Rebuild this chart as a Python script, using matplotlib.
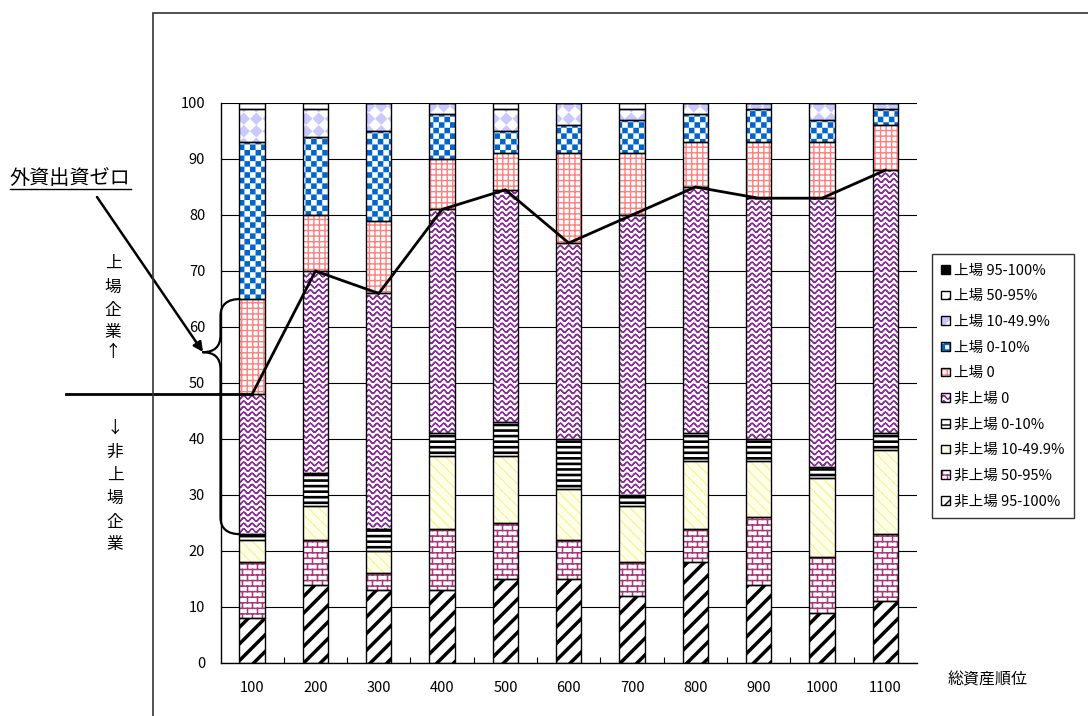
import warnings
import numpy as np
import matplotlib
matplotlib.use("Agg")
import matplotlib.pyplot as plt
from matplotlib import hatch as mhatch
from matplotlib.path import Path
from matplotlib.patches import PathPatch, Rectangle
from matplotlib.transforms import blended_transform_factory
from matplotlib.legend_handler import HandlerTuple

warnings.filterwarnings("ignore")
plt.rcParams["font.family"] = ["Noto Sans CJK JP", "DejaVu Sans"]

# ---------------------------------------------------------------- data
ranks = ["100", "200", "300", "400", "500", "600", "700", "800", "900", "1000", "1100"]

unlisted_95_100 = [8, 14, 13, 13, 15, 15, 12, 18, 14, 9, 11]
unlisted_50_95 = [10, 8, 3, 11, 10, 7, 6, 6, 12, 10, 12]
unlisted_10_50 = [4, 6, 4, 13, 12, 9, 10, 12, 10, 14, 15]
unlisted_0_10 = [1, 6, 4, 4, 6, 9, 2, 5, 4, 2, 3]
unlisted_0 = [25, 36, 42, 40, 41.5, 35, 50, 44, 43, 48, 47]
listed_0 = [17, 10, 13, 9, 6.5, 16, 11, 8, 10, 10, 8]
listed_0_10 = [28, 14, 16, 8, 4, 5, 6, 5, 6, 4, 3]
listed_10_50 = [6, 5, 5, 2, 4, 4, 2, 2, 1, 3, 1]
listed_50_95 = [1, 1, 0, 0, 1, 0, 1, 0, 0, 0, 0]
listed_95_100 = [0, 0, 0, 0, 0, 0, 0, 0, 0, 0, 0]

series_labels = ["非上場 95-100%", "非上場 50-95%", "非上場 10-49.9%", "非上場 0-10%",
                 "非上場 0", "上場 0", "上場 0-10%", "上場 10-49.9%", "上場 50-95%",
                 "上場 95-100%"]


# ---------------------------------------------------------- custom hatches
def _segments_to(vertices, codes, segs):
    arr = np.asarray(segs, dtype=float).reshape(-1, 2)
    vertices[:] = arr
    codes[0::2] = Path.MOVETO
    codes[1::2] = Path.LINETO


class BrickHatch(mhatch.HatchPatternBase):
    rows, cols = 18, 10

    def __init__(self, hatch, density):
        self.segs = []
        if "b" in hatch:
            R, C = self.rows, self.cols
            for r in range(R):
                y0 = (r + 0.5) / R
                y1 = (r + 1.5) / R
                self.segs.append(((0, y0), (1, y0)))
                off = 0.5 * (r % 2) + 0.25
                for c in range(C):
                    x = (c + off) / C
                    if y1 > 1:
                        self.segs.append(((x, y0), (x, 1.0)))
                        self.segs.append(((x, 0.0), (x, y1 - 1)))
                    else:
                        self.segs.append(((x, y0), (x, y1)))
        self.num_vertices = 2 * len(self.segs)

    def set_vertices_and_codes(self, vertices, codes):
        _segments_to(vertices, codes, self.segs)


class WaveHatch(mhatch.HatchPatternBase):
    rows, waves, steps, amp = 18, 12, 8, 0.017

    def __init__(self, hatch, density):
        self.segs = []
        if "w" in hatch:
            xs = np.linspace(0, 1, self.waves * self.steps + 1)
            for r in range(self.rows):
                yc = (r + 0.5) / self.rows
                ys = yc + self.amp * np.sin(2 * np.pi * self.waves * xs)
                for i in range(len(xs) - 1):
                    self.segs.append(((xs[i], ys[i]), (xs[i + 1], ys[i + 1])))
        self.num_vertices = 2 * len(self.segs)

    def set_vertices_and_codes(self, vertices, codes):
        _segments_to(vertices, codes, self.segs)


class _PolyHatch(mhatch.HatchPatternBase):
    def __init__(self, hatch, density):
        self.polys = self.make() if self.key in hatch else []
        self.num_vertices = 5 * len(self.polys)

    def set_vertices_and_codes(self, vertices, codes):
        for k, poly in enumerate(self.polys):
            vertices[5 * k:5 * k + 4] = poly
            vertices[5 * k + 4] = poly[0]
            codes[5 * k] = Path.MOVETO
            codes[5 * k + 1:5 * k + 4] = Path.LINETO
            codes[5 * k + 4] = Path.CLOSEPOLY


class CheckerHatch(_PolyHatch):
    key, n = "c", 18

    def make(self):
        s = 1.0 / self.n
        out = []
        for i in range(self.n):
            for j in range(self.n):
                if (i + j) % 2 == 0:
                    x0, y0 = i * s, j * s
                    out.append([(x0, y0), (x0 + s, y0), (x0 + s, y0 + s), (x0, y0 + s)])
        return out


class DiamondHatch(_PolyHatch):
    key, n = "d", 8

    def make(self):
        s = 1.0 / self.n
        h = s / 2
        out = []
        for i in range(self.n):
            for j in range(self.n):
                cx, cy = (i + 0.5) * s, (j + 0.5) * s
                out.append([(cx, cy - h), (cx + h, cy), (cx, cy + h), (cx - h, cy)])
        return out


mhatch._hatch_types.extend([BrickHatch, WaveHatch, CheckerHatch, DiamondHatch])

# ------------------------------------------------------------- figure
W, H = 1088, 716
fig = plt.figure(figsize=(W / 100, H / 100), dpi=100)
ax_left, ax_right, ax_top, ax_bottom = 220.5, 917, 103, 663
ax = fig.add_axes([ax_left / W, 1 - ax_bottom / H,
                   (ax_right - ax_left) / W, (ax_bottom - ax_top) / H])

x = np.arange(len(ranks))
bar_w = 0.40

styles = [
    # face, hatch, hatch colour, hatch linewidth
    ("white", "//", "black", 2.5),
    ("white", "b", "#A8387A", 1.1),
    ("#FFFFE8", "\\\\\\", "#F2F2A6", 0.9),
    ("white", "---", "black", 1.9),
    ("white", "w", "#8A2E9A", 1.0),
    ("white", "+++", "#FF7F7F", 1.0),
    ("white", "c", "#0066CC", 0.0),
    ("white", "d", "#C9C9FF", 0.0),
    ("white", ".", "#303090", 0.5),
    ("black", None, "black", 0.5),
]
series = [unlisted_95_100, unlisted_50_95, unlisted_10_50, unlisted_0_10, unlisted_0,
          listed_0, listed_0_10, listed_10_50, listed_50_95, listed_95_100]

handles = []
bottom = np.zeros(len(ranks))
for vals, (face, hatch, hcol, hlw), lab in zip(series, styles, series_labels):
    vals = np.asarray(vals, dtype=float)
    with plt.rc_context({"hatch.linewidth": hlw, "hatch.color": hcol}):
        fill = ax.bar(x, vals, bar_w, bottom=bottom, color=face, edgecolor=hcol,
                      linewidth=0, hatch=hatch, zorder=2)
    for p in fill:
        if hasattr(p, "set_hatch_linewidth"):
            p.set_hatch_linewidth(hlw)
    outline = ax.bar(x, vals, bar_w, bottom=bottom, fill=False, edgecolor="black",
                     linewidth=1.0, zorder=3)
    handles.append(((fill[0], outline[0]), lab))
    bottom = bottom + vals

# boundary between unlisted and listed firms
unlisted_total = (np.array(unlisted_95_100) + np.array(unlisted_50_95) + np.array(unlisted_10_50)
                  + np.array(unlisted_0_10) + np.array(unlisted_0))
ax.plot(x, unlisted_total, color="black", lw=2.0, zorder=5, solid_joinstyle="miter")

blend = blended_transform_factory(ax.transAxes, ax.transData)
x0_frac = (0 + 0.5) / len(ranks)
ax.plot([(66 - ax_left) / (ax_right - ax_left), x0_frac], [unlisted_total[0]] * 2,
        color="black", lw=2.0, transform=blend, clip_on=False, zorder=5)

# axes styling
ax.set_xlim(-0.5, len(ranks) - 0.5)
ax.set_ylim(0, 100)
ax.set_yticks(np.arange(0, 101, 10))
ax.yaxis.grid(True, color="black", lw=0.8)
ax.set_axisbelow(True)
ax.tick_params(axis="y", length=0, pad=11, labelsize=10.5)
ax.set_xticks(x)
ax.set_xticklabels(ranks)
ax.set_xticks(x[:-1] + 0.5, minor=True)
ax.tick_params(axis="x", which="major", length=0, pad=13, labelsize=10.5)
ax.tick_params(axis="x", which="minor", direction="in", length=4, width=0.8)
for s in ("top", "right"):
    ax.spines[s].set_visible(False)
for s in ("left", "bottom"):
    ax.spines[s].set_color("black")
    ax.spines[s].set_linewidth(1.0)

# brace spanning the 100-rank bar
top_y = unlisted_total[0] + listed_0[0]
bot_y = unlisted_total[0] - unlisted_0[0]
tip_y = 55.5
r = 3.0
bx, tx = 20 / (ax_right - ax_left), -18 / (ax_right - ax_left)
verts = [(bx, top_y), (0, top_y), (0, top_y - r), (0, tip_y + r), (0, tip_y), (tx, tip_y),
         (0, tip_y), (0, tip_y - r), (0, bot_y + r), (0, bot_y), (bx, bot_y)]
codes = [Path.MOVETO, Path.CURVE3, Path.CURVE3, Path.LINETO, Path.CURVE3, Path.CURVE3,
         Path.CURVE3, Path.CURVE3, Path.LINETO, Path.CURVE3, Path.CURVE3]
ax.add_patch(PathPatch(Path(verts, codes), fill=False, lw=1.6, edgecolor="black",
                       transform=blend, clip_on=False, zorder=6))


def ftext(px, py, s, **kw):
    return fig.text(px / W, 1 - py / H, s, **kw)


# annotation text and arrow
ftext(70, 178, "外資出資ゼロ", fontsize=14.5, ha="center", va="center")
fig.add_artist(plt.Line2D([10 / W, 131 / W], [1 - 189 / H] * 2, color="black", lw=1.0))
ax.annotate("", xy=(203, H - 352), xytext=(97, H - 197), xycoords="figure pixels",
            textcoords="figure pixels",
            arrowprops=dict(arrowstyle="-|>", lw=1.8, color="black", mutation_scale=14,
                            shrinkA=0, shrinkB=0))

for ch, py in zip("上場企業↑", [263, 287, 310, 332, 353]):
    ftext(113, py, ch, fontsize=12, ha="center", va="center")
for ch, py in zip("↓非上場企業", [428, 452, 475, 498, 523, 545]):
    ftext(115, py, ch, fontsize=12, ha="center", va="center")

ftext(988, 680, "総資産順位", fontsize=11.5, ha="center", va="center")

# legend
leg_handles = [h for h, _ in handles][::-1]
leg_labels = [l for _, l in handles][::-1]
leg = fig.legend(leg_handles, leg_labels, loc="upper left",
                 bbox_to_anchor=(932 / W, 1 - 254 / H), borderaxespad=0,
                 handler_map={tuple: HandlerTuple(ndivide=1)},
                 fontsize=10.5, handlelength=0.55, handleheight=0.55, handletextpad=0.3,
                 labelspacing=0.8, borderpad=0.65, fancybox=False, shadow=False,
                 frameon=True)
leg.get_frame().set_edgecolor("black")
leg.get_frame().set_linewidth(1.0)

# outer chart frame
fig.add_artist(Rectangle((153 / W, -0.1), 1.0, 1.1 - 13 / H, transform=fig.transFigure,
                         fill=False, edgecolor="#333333", lw=1.2))

fig.savefig("out.png", dpi=100)
